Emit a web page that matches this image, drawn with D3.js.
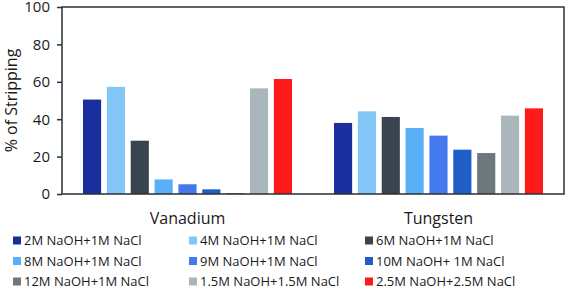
<!DOCTYPE html>
<html>
<head>
<meta charset="utf-8">
<script src="https://cdn.jsdelivr.net/npm/d3@7"></script>
<style>
  body { margin: 0; background: #fff; }
  svg { display: block; font-family: "Open Sans", sans-serif; }
</style>
</head>
<body>
<svg id="chart" width="567" height="289"></svg>
<script>
// data
var groups = ["Vanadium", "Tungsten"];
var series = ["2M NaOH+1M NaCl", "4M NaOH+1M NaCl", "6M NaOH+1M NaCl",
              "8M NaOH+1M NaCl", "9M NaOH+1M NaCl", "10M NaOH+ 1M NaCl",
              "12M NaOH+1M NaCl", "1.5M NaOH+1.5M NaCl", "2.5M NaOH+2.5M NaCl"];
var vanadium = [50.5, 57.3, 28.5, 7.8, 5.2, 2.5, 0.5, 56.5, 61.5];
var tungsten = [38, 44.2, 41.2, 35.3, 31.2, 23.7, 21.9, 41.9, 45.8];
var colors = ["#1b2e9e", "#82c7f7", "#38444f", "#5ab0f7", "#4378ee",
              "#1f5ec7", "#6c777e", "#a9b6bc", "#fe1a1a"];
var yTicks = [0, 20, 40, 60, 80, 100];

var values = { "Vanadium": vanadium, "Tungsten": tungsten };

var svg = d3.select("#chart");
// plot box (note: "top" is taken by window.top)
var plotL = 62, plotR = 564, plotT = 7, plotB = 194;

var x0 = d3.scaleBand().domain(groups).range([plotL, plotR]);
var x1 = d3.scaleBand().domain(series)
    .range([21, x0.bandwidth() - 21])
    .paddingInner(0.24);
var y = d3.scaleLinear().domain([0, 100]).range([plotB, plotT]);
var color = d3.scaleOrdinal().domain(series).range(colors);

// bars
var g = svg.append("g").selectAll("g")
    .data(groups)
    .enter().append("g")
    .attr("transform", function(d) { return "translate(" + x0(d) + ",0)"; });

g.selectAll("rect")
    .data(function(grp) {
        return series.map(function(s, i) { return {key: s, value: values[grp][i]}; });
    })
    .enter().append("rect")
    .attr("x", function(d) { return x1(d.key); })
    .attr("y", function(d) { return y(d.value); })
    .attr("width", x1.bandwidth())
    .attr("height", function(d) { return plotB - y(d.value); })
    .attr("fill", function(d) { return color(d.key); });

// frame
svg.append("rect")
    .attr("x", plotL).attr("y", plotT)
    .attr("width", plotR - plotL).attr("height", plotB - plotT)
    .attr("fill", "none").attr("stroke", "#2b2f31").attr("stroke-width", 1.5);

// y axis: tick lines from d3.axisLeft, labels drawn separately
var yAxis = svg.append("g")
    .attr("transform", "translate(" + plotL + ",0)")
    .call(d3.axisLeft(y).tickValues(yTicks).tickSize(5).tickFormat(""));
yAxis.select(".domain").remove();
yAxis.selectAll("line").attr("stroke", "#2b2f31").attr("stroke-width", 1.5);

svg.append("g").selectAll("text")
    .data(yTicks)
    .enter().append("text")
    .attr("x", plotL - 12)
    .attr("y", function(d) { return y(d); })
    .attr("dy", "0.36em")
    .attr("text-anchor", "end")
    .attr("font-size", 15)
    .attr("fill", "#1a1a1a")
    .text(function(d) { return d; });

svg.append("text")
    .attr("transform", "translate(17," + (plotT + plotB) / 2 + ") rotate(-90)")
    .attr("text-anchor", "middle")
    .attr("font-size", 16)
    .attr("fill", "#1a1a1a")
    .text("% of Stripping");

// group labels
svg.append("g").selectAll("text")
    .data(groups)
    .enter().append("text")
    .attr("x", function(d) { return x0(d) + x0.bandwidth() / 2; })
    .attr("y", 224)
    .attr("text-anchor", "middle")
    .attr("font-size", 16)
    .attr("fill", "#1a1a1a")
    .text(function(d) { return d; });

// legend, 3 columns
var colX = [13, 189, 365];
var legend = svg.append("g").selectAll("g")
    .data(series)
    .enter().append("g")
    .attr("transform", function(d, i) {
        return "translate(" + colX[i % 3] + "," + (240.5 + Math.floor(i / 3) * 20.5) + ")";
    });

legend.append("rect")
    .attr("x", 0).attr("y", -4)
    .attr("width", 8).attr("height", 8)
    .attr("fill", function(d) { return color(d); });

legend.append("text")
    .attr("x", 11)
    .attr("y", 0)
    .attr("dy", "0.35em")
    .attr("font-size", 13)
    .attr("fill", "#1a1a1a")
    .text(function(d) { return d; });
</script>
</body>
</html>
